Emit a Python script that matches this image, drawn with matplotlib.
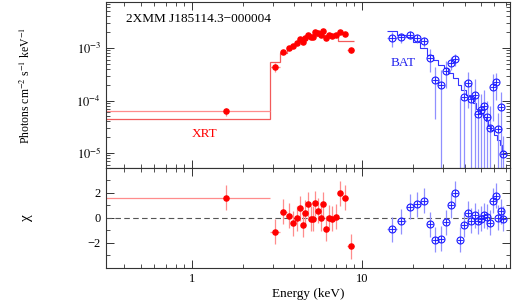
import numpy as np
import matplotlib
matplotlib.use("Agg")
import matplotlib.pyplot as plt
from matplotlib.ticker import LogLocator, FixedLocator, NullFormatter, FixedFormatter

plt.rcParams['font.family'] = ['Liberation Serif', 'DejaVu Serif']
plt.rcParams['mathtext.fontset'] = 'stix'

# ---------------- XRT data ----------------
xrt_edges = [0.3, 2.88, 3.30, 3.60, 3.82, 4.03, 4.22, 4.40, 4.56, 4.72, 4.90, 5.07,
             5.23, 5.41, 5.60, 5.79, 6.01, 6.26, 6.51, 6.80, 7.18, 7.60, 8.2, 9.0]
xrt_flux = [6.2e-5, 4.4e-4, 8.5e-4, 1.01e-3, 1.08e-3, 1.23e-3, 1.50e-3, 1.30e-3, 1.55e-3,
            1.77e-3, 1.62e-3, 1.64e-3, 2.04e-3, 1.91e-3, 1.77e-3, 2.11e-3, 1.57e-3, 1.75e-3,
            1.72e-3, 1.75e-3, 2.02e-3, 1.85e-3, 9.2e-4]
xrt_ferr = [1.1e-5, 9e-5, 8e-5, 9e-5, 9e-5, 1.0e-4, 1.1e-4, 1.0e-4, 1.1e-4, 1.2e-4, 1.1e-4,
            1.1e-4, 1.3e-4, 1.2e-4, 1.2e-4, 1.3e-4, 1.1e-4, 1.2e-4, 1.2e-4, 1.2e-4, 1.3e-4,
            1.3e-4, 1.0e-4]
xrt_model = [4.4e-5, 5.4e-4, 8.2e-4, 9.9e-4, 1.12e-3, 1.24e-3, 1.35e-3, 1.42e-3, 1.50e-3,
             1.57e-3, 1.63e-3, 1.68e-3, 1.72e-3, 1.76e-3, 1.78e-3, 1.80e-3, 1.80e-3, 1.78e-3,
             1.75e-3, 1.70e-3, 1.39e-3, 1.39e-3, 1.39e-3]
xrt_chi = [1.6, -1.1, 0.48, 0.19, -0.43, -0.03, 0.77, -0.56, 0.43, 1.09, -0.05, -0.05, 1.17,
           0.56, -0.03, 1.09, -0.88, 0.0, -0.05, 0.08, 1.97, 1.63, -2.27]

# ---------------- BAT data ----------------
bat_edges = [14, 16, 18, 20, 22, 24, 26, 28, 30.1, 32.1, 34.2, 36.4, 38.4, 40.6, 42.8, 44.8,
             47, 49, 51.2, 53.2, 55.3, 57.6, 59.9, 62.1, 64.3, 66.6, 69]
bat_flux = [1.53e-3, 1.60e-3, 1.77e-3, 1.53e-3, 1.34e-3, 6.54e-4, 2.45e-4, 1.95e-4, 3.70e-4,
            5.25e-4, 6.09e-4, 1e-6, 1.15e-4, 2.13e-4, 1.05e-4, 1.29e-4, 5.45e-5, 6.5e-5,
            7.96e-5, 4.8e-5, 3.0e-5, 1.81e-4, 2.22e-4, 2.83e-5, 7.4e-5, 9.6e-6]
bat_ferr = [5e-4, 3.5e-4, 3e-4, 3e-4, 3e-4, 3e-4, 2e-4, 1.9e-4, 2e-4, 1.5e-4, 1.5e-4, 1.1e-4,
            1.2e-4, 1.4e-4, 1.1e-4, 1.3e-4, 6e-5, 7e-5, 8e-5, 5e-5, 5e-5, 1.4e-4, 1.2e-4,
            3e-5, 7e-5, 1.2e-5]
bat_model = [2.1e-3, 1.75e-3, 1.6e-3, 1.3e-3, 1.0e-3, 7.5e-4, 6.0e-4, 4.8e-4, 4.2e-4, 3.4e-4,
             2.7e-4, 2.0e-4, 1.6e-4, 1.3e-4, 1.1e-4, 9.0e-5, 7.0e-5, 5.8e-5, 4.8e-5, 4.0e-5,
             3.3e-5, 2.7e-5, 2.2e-5, 1.8e-5, 1.4e-5, 1.1e-5]
bat_chi = [-0.9, -0.27, 0.88, 1.1, 1.38, -0.5, -1.76, -1.65, -0.35, 1.0, 1.97, -1.73, -0.53,
           0.37, -0.21, 0.21, -0.27, -0.05, 0.21, 0.08, -0.37, 1.36, 1.78, 0.03, 0.53, -0.05]

xlim = (0.312, 74)
ylim_top = (5.2e-6, 7.5e-3)
ylim_bot = (-4, 4)

RED = '#ff0000'
RED_L = '#ff8c8c'
RED_M = '#f25a5a'
BLUE = '#1a1aff'
BLUE_L = '#9090ff'
BLUE_M = '#3333ff'

def centers(edges):
    e = np.asarray(edges, float)
    c = 0.5 * (e[:-1] + e[1:])
    return c, c - e[:-1], e[1:] - c

xrt_c, xrt_lo, xrt_hi = centers(xrt_edges)
bat_c, bat_lo, bat_hi = centers(bat_edges)

fig = plt.figure(figsize=(5.12, 3.0), dpi=100)
ax1 = fig.add_axes([0.207, 0.44, 0.789, 0.553])
ax2 = fig.add_axes([0.207, 0.107, 0.789, 0.333], sharex=ax1)

# top panel
ax1.stairs(xrt_model, xrt_edges, baseline=None, color=RED_M, lw=0.9)
ax1.errorbar(xrt_c, xrt_flux, xerr=[xrt_lo, xrt_hi], yerr=xrt_ferr, fmt='o', ms=3.7,
             color=RED, ecolor=RED_L, elinewidth=0.9, capsize=0)
ax1.stairs(bat_model, bat_edges, baseline=None, color=BLUE_M, lw=0.8)
ax1.errorbar(bat_c, bat_flux, xerr=[bat_lo, bat_hi], yerr=bat_ferr, fmt='none',
             ecolor=BLUE_L, elinewidth=0.9, capsize=0)
ax1.plot(bat_c, bat_flux, 'o', ms=5, mfc='none', mec=BLUE, mew=0.8, ls='none')
ax1.plot(bat_c, bat_flux, '+', ms=5, mec=BLUE, mew=0.6, ls='none')
ax1.set_xscale('log')
ax1.set_yscale('log')
ax1.set_xlim(*xlim)
ax1.set_ylim(*ylim_top)
ax1.set_ylabel(r'Photons cm$^{-2}$ s$^{-1}$ keV$^{-1}$', fontsize=8.5)
ax1.yaxis.set_major_locator(FixedLocator([1e-5, 1e-4, 1e-3]))
ax1.yaxis.set_major_formatter(FixedFormatter([r'$10^{-5}$', r'$10^{-4}$', r'$10^{-3}$']))
ax1.yaxis.set_minor_locator(LogLocator(base=10, subs=np.arange(2, 10)))
ax1.yaxis.set_minor_formatter(NullFormatter())
ax1.tick_params(labelbottom=False)
ax1.text(0.05, 0.88, '2XMM J185114.3\u2212000004', transform=ax1.transAxes,
         fontsize=9.5, color='black')
ax1.text(0.245, 0.185, 'XRT', transform=ax1.transAxes, fontsize=9.5, color=RED, ha='center')
ax1.text(0.735, 0.615, 'BAT', transform=ax1.transAxes, fontsize=9.5, color='#2222ee', ha='center')

# bottom panel
ax2.axhline(0, color='#555555', lw=0.8, ls=(0, (5, 3)))
ax2.errorbar(xrt_c, xrt_chi, xerr=[xrt_lo, xrt_hi], yerr=1.0, fmt='o', ms=3.7,
             color=RED, ecolor=RED_L, elinewidth=0.9, capsize=0)
ax2.errorbar(bat_c, bat_chi, xerr=[bat_lo, bat_hi], yerr=1.0, fmt='none',
             ecolor=BLUE_L, elinewidth=0.9, capsize=0)
ax2.plot(bat_c, bat_chi, 'o', ms=5, mfc='none', mec=BLUE, mew=0.8, ls='none')
ax2.plot(bat_c, bat_chi, '+', ms=5, mec=BLUE, mew=0.6, ls='none')
ax2.set_ylim(*ylim_bot)
ax2.set_xlim(*xlim)
ax2.yaxis.set_major_locator(FixedLocator([-2, 0, 2]))
ax2.yaxis.set_major_formatter(FixedFormatter(['\u22122', '0', '2']))
ax2.yaxis.set_minor_locator(FixedLocator([-3, -1, 1, 3]))
ax2.xaxis.set_major_locator(FixedLocator([1, 10]))
ax2.xaxis.set_major_formatter(FixedFormatter(['1', '10']))
ax2.xaxis.set_minor_locator(LogLocator(base=10, subs=np.arange(2, 10)))
ax2.xaxis.set_minor_formatter(NullFormatter())
ax2.set_xlabel('Energy (keV)', fontsize=9.5, labelpad=2)
ax2.set_ylabel('\u03c7', fontsize=11, rotation=90)

for ax in (ax1, ax2):
    for s in ax.spines.values():
        s.set_color('#333333')
        s.set_linewidth(0.8)
    ax.tick_params(which='both', direction='in', top=True, right=True, colors='#333333',
                   labelcolor='black', labelsize=9)
    ax.tick_params(which='major', length=6, width=0.7)
    ax.tick_params(which='minor', length=3, width=0.6)

ax1.yaxis.set_label_coords(-0.18, 0.5)
ax2.yaxis.set_label_coords(-0.18, 0.5)
fig.savefig('out.png', dpi=100, facecolor='white')
